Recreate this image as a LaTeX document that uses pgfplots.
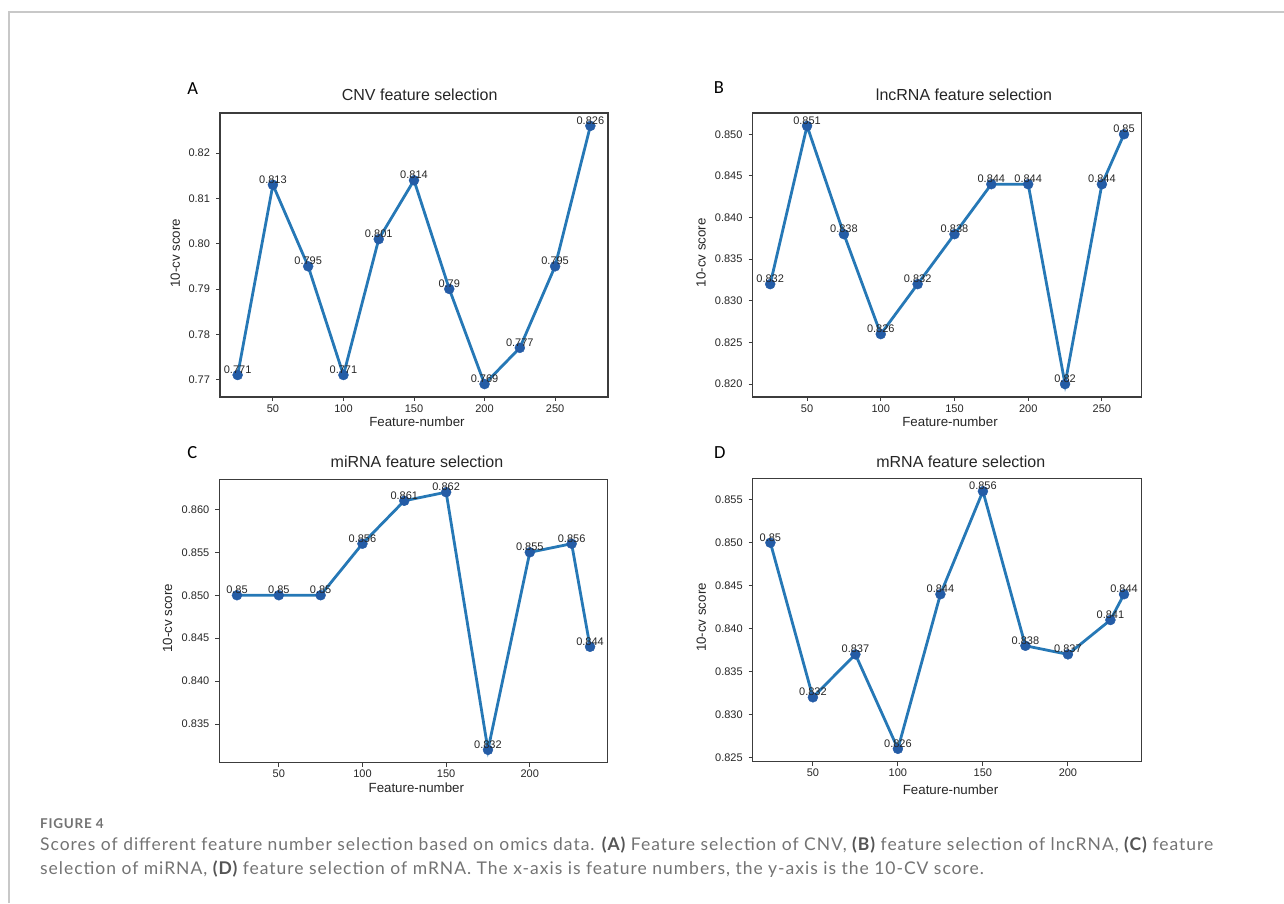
\documentclass[border=0pt]{standalone}
\usepackage{fontspec}
\setmainfont{Liberation Sans}
\newfontfamily\lato[LetterSpace=5.6]{Lato}
\newfontfamily\carlito{Carlito}
\usepackage{pgfplots}
\pgfplotsset{compat=1.18}
\definecolor{lineblue}{RGB}{38,120,182}
\definecolor{markblue}{RGB}{36,92,166}
\definecolor{spine}{RGB}{60,60,60}
\definecolor{txt}{RGB}{38,38,38}
\definecolor{capgray}{RGB}{115,115,115}
\definecolor{capdark}{RGB}{85,85,85}
\definecolor{framegray}{RGB}{200,200,200}

\pgfplotsset{
  panel/.style={
    scale only axis, clip=false,
    axis line style={spine, line width=1.1pt},
    tick style={spine, line width=0.9pt},
    tick align=outside, major tick length=4pt,
    tick pos=left,
    tick label style={font=\fontsize{11}{12}\selectfont, text=txt},
    yticklabel style={xshift=-2.5pt},
    /pgf/number format/assume math mode=true,
  },
  series/.style={
    lineblue, line width=2.8pt, mark=*, mark size=5pt,
    mark options={solid, fill=markblue, draw=markblue, line width=0.4pt},
    point meta=y,
    nodes near coords={\pgfmathprintnumber[fixed,precision=3]{\pgfplotspointmeta}},
    every node near coord/.append style={anchor=base, yshift=1.5pt, inner sep=0pt,
      font=\fontsize{11}{12}\selectfont, text=txt},
  },
}

\pgfplotstableread{
x y
25 0.771
50 0.813
75 0.795
100 0.771
125 0.801
150 0.814
175 0.790
200 0.769
225 0.777
250 0.795
275 0.826
}\tabA
\pgfplotstableread{
x y
25 0.832
50 0.851
75 0.838
100 0.826
125 0.832
150 0.838
175 0.844
200 0.844
225 0.820
250 0.844
265 0.850
}\tabB
\pgfplotstableread{
x y
25 0.850
50 0.850
75 0.850
100 0.856
125 0.861
150 0.862
175 0.832
200 0.855
225 0.856
236 0.844
}\tabC
\pgfplotstableread{
x y
25 0.850
50 0.832
75 0.837
100 0.826
125 0.844
150 0.856
175 0.838
200 0.837
225 0.841
233 0.844
}\tabD

\begin{document}
\begin{tikzpicture}[x=1pt,y=1pt]
\path[use as bounding box] (0,0) rectangle (1284,903);
\draw[framegray, line width=1.2pt] (9,0) -- (9,891) -- (1284,891);

% Panel A
\begin{axis}[panel, at={(220pt,506pt)}, anchor=south west, width=388pt, height=284pt,
  xmin=12.5, xmax=287.5, ymin=0.76615, ymax=0.82885,
  xtick={50,100,150,200,250},
  ytick={0.77,0.78,0.79,0.80,0.81,0.82},
  yticklabels={0.77,0.78,0.79,0.80,0.81,0.82}]
\addplot[series] table[x=x,y=y] {\tabA};
\end{axis}

% Panel B
\begin{axis}[panel, at={(752.5pt,506pt)}, anchor=south west, width=389.2pt, height=284pt,
  xmin=13, xmax=277, ymin=0.81845, ymax=0.85255,
  xtick={50,100,150,200,250},
  ytick={0.820,0.825,0.830,0.835,0.840,0.845,0.850},
  yticklabels={0.820,0.825,0.830,0.835,0.840,0.845,0.850}]
\addplot[series] table[x=x,y=y] {\tabB};
\end{axis}

% Panel C
\begin{axis}[panel, at={(219.3pt,140.3pt)}, anchor=south west, width=388.4pt, height=283.4pt,
  xmin=14.45, xmax=246.55, ymin=0.8305, ymax=0.8635,
  xtick={50,100,150,200},
  ytick={0.835,0.840,0.845,0.850,0.855,0.860},
  yticklabels={0.835,0.840,0.845,0.850,0.855,0.860}]
\addplot[series] table[x=x,y=y] {\tabC};
\end{axis}

% Panel D
\begin{axis}[panel, at={(752.7pt,141.3pt)}, anchor=south west, width=389pt, height=283.4pt,
  xmin=14.6, xmax=243.4, ymin=0.8245, ymax=0.8575,
  xtick={50,100,150,200},
  ytick={0.825,0.830,0.835,0.840,0.845,0.850,0.855},
  yticklabels={0.825,0.830,0.835,0.840,0.845,0.850,0.855}]
\addplot[series] table[x=x,y=y] {\tabD};
\end{axis}

% panel letters
\begin{scope}[every node/.style={font=\carlito\fontsize{18.5}{20}\selectfont, text=black, inner sep=0pt}]
\node at (192.7,814.7) {A};
\node at (719,815.7) {B};
\node at (192.3,450.7) {C};
\node at (719.7,450.7) {D};
\end{scope}

% titles
\begin{scope}[every node/.style={font=\fontsize{16}{18}\selectfont, text=txt, anchor=base, inner sep=0pt}]
\node at (419.7,802.3) {CNV feature selection};
\node at (964,802.3) {lncRNA feature selection};
\node at (417,435.3) {miRNA feature selection};
\node at (960.8,435.3) {mRNA feature selection};
\end{scope}

% axis labels
\begin{scope}[every node/.style={font=\fontsize{13.3}{15}\selectfont, text=txt, inner sep=0pt}]
\node[rotate=90] at (175.3,649.7) {10-cv score};
\node[rotate=90] at (701,650.3) {10-cv score};
\node[rotate=90] at (167.5,284.7) {10-cv score};
\node[rotate=90] at (701.3,285.5) {10-cv score};
\node at (417,481.3) {Feature-number};
\node at (950,481.3) {Feature-number};
\node at (416.3,115.3) {Feature-number};
\node at (950.5,113.7) {Feature-number};
\end{scope}

% caption
\begin{scope}[every node/.style={anchor=base west, inner sep=0pt, text=capgray}]
\node at (40,74.7) {\lato\bfseries\fontsize{13.5}{16}\selectfont FIGURE 4};
\node at (40,53) {\lato\fontsize{17.5}{19}\selectfont Scores of different feature number selection based on omics data. {\color{capdark}\bfseries(A)} Feature selection of CNV, {\color{capdark}\bfseries(B)} feature selection of lncRNA, {\color{capdark}\bfseries(C)} feature};
\node at (40,29) {\lato\fontsize{17.5}{19}\selectfont selection of miRNA, {\color{capdark}\bfseries(D)} feature selection of mRNA. The x-axis is feature numbers, the y-axis is the 10-CV score.};
\end{scope}
\end{tikzpicture}
\end{document}
